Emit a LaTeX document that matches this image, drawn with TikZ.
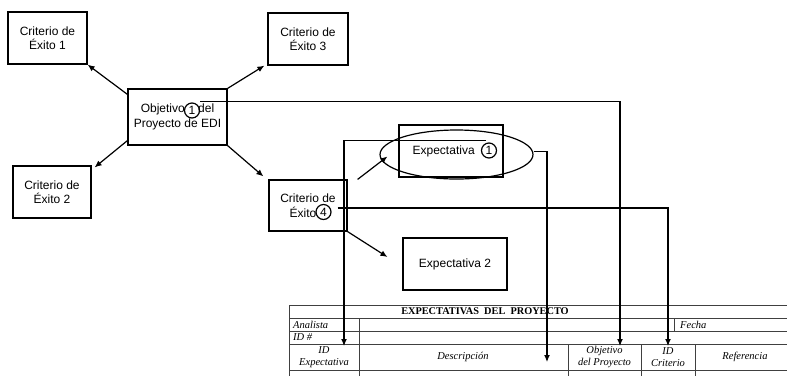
\documentclass[tikz,border=0pt]{standalone}
\usepackage{fontspec}
\setmainfont{Liberation Serif}
\setsansfont{Liberation Sans}
\usetikzlibrary{arrows.meta,positioning,calc,shapes.geometric}

\begin{document}
\begin{tikzpicture}[x=1pt,y=-1pt,
      crit/.style={draw,line width=1.2pt,align=center,inner sep=0pt,
        font=\sffamily\fontsize{12}{14.5}\selectfont},
      circ/.style={circle,draw,line width=1.2pt,minimum size=15pt,inner sep=0pt,
        font=\sffamily\fontsize{12}{14}\selectfont},
      arr/.style={line width=1.2pt,-{Latex[length=7pt,width=6pt]}},
      conn/.style={line width=1.2pt,-{Latex[length=7pt,width=6pt]}},
      tabline/.style={line width=0.8pt,black!75},
      tabtxt/.style={font=\fontsize{10.5}{11.5}\selectfont\itshape,align=center,inner sep=0pt}]
    \useasboundingbox (0,0) rectangle (787,376);

    % objetivo y criterios
    \node[crit,minimum width=99pt,minimum height=56pt] (obj) at (177.5,117)
      {Objetivo \hphantom{1} del\\Proyecto de EDI};
    \node[circ] (n1) at (192,110.5) {1};
    \node[crit,minimum width=79pt,minimum height=52pt] (c1) at (47.5,38) {Criterio de\\Éxito 1};
    \node[crit,minimum width=80pt,minimum height=52pt] (c3) at (308,39) {Criterio de\\Éxito 3};
    \node[crit,minimum width=78pt,minimum height=52pt] (c2) at (52,192) {Criterio de\\Éxito 2};
    \node[crit,minimum width=78pt,minimum height=51pt] (c4) at (308,205.5) {Criterio de\\Éxito \hphantom{4}};
    \node[circ] (n4) at (323.5,212) {4};

    % expectativas
    \node[crit,minimum width=104pt,minimum height=52pt] (e1) at (451,151)
      {Expectativa\hspace{8pt}\hphantom{1}};
    \node[circ] (ne1) at (489,150.5) {1};
    \node[ellipse,draw,line width=1.2pt,minimum width=153pt,minimum height=49pt] (ell) at (456.5,154.5) {};
    \node[crit,minimum width=104pt,minimum height=52pt] (e2) at (455,264) {Expectativa 2};

    \draw[arr] ([yshift=-6pt]obj.north west) -- (c1.south east);
    \draw[arr] (obj.north east) -- ([xshift=-3pt]c3.south west);
    \draw[arr] ([yshift=5pt]obj.south west) -- ([xshift=3pt,yshift=-2pt]c2.north east);
    \draw[arr] (obj.south east) -- ([xshift=-5pt,yshift=3pt]c4.north west);
    \draw[arr] ([xshift=10pt]c4.north east) -- ([xshift=8pt,yshift=-2pt]ell.west);
    \draw[arr] (c4.south east) -- ([xshift=-15pt,yshift=7pt]e2.west);

    % tabla
    \draw[tabline] (289,305) -- (787,305);
    \foreach \y in {318,331,344,370}
      \draw[tabline] (289,\y) -- (787,\y);
    \draw[tabline] (289,305) -- (289,376);
    \draw[tabline] (359,318) -- (359,376);
    \draw[tabline] (674,318) -- (674,331);
    \foreach \x in {568,641,695}
      \draw[tabline] (\x,344) -- (\x,376);

    \node[font=\fontsize{10.3}{12}\selectfont\bfseries] (titulo) at (485,311.5)
      {EXPECTATIVAS\ \ DEL\ \ PROYECTO};
    \node[tabtxt,anchor=west] (analista) at (293,324.5) {Analista};
    \node[tabtxt,anchor=west] (fecha) at (680,324.5) {Fecha};
    \node[tabtxt,anchor=west] (idnum) at (293,337.5) {ID \#};
    \node[tabtxt] (hexp) at (324,357) {ID\\Expectativa};
    \node[tabtxt] (hdesc) at (463,357) {Descripción};
    \node[tabtxt] (hobj) at (604.5,357) {Objetivo\\del Proyecto};
    \node[tabtxt] (hcrit) at (668,357) {ID\\Criterio};
    \node[tabtxt] (href) at (745,357) {Referencia};

    \coordinate (t-exp) at (344,346);
    \coordinate (t-desc) at (547,362);
    \coordinate (t-obj) at (620,346);
    \coordinate (t-crit) at (668,346);

    % conexiones a la tabla
    \draw[conn] ([xshift=8pt,yshift=1pt]n1.north) -| (t-obj);
    \draw[conn] ([xshift=6pt,yshift=4pt]n4.east) -| (t-crit);
    \draw[conn] ([xshift=-3pt,yshift=2pt]ne1.north) -| (t-exp);
    \draw[conn] ([yshift=3pt]ell.east) -| (t-desc);
  \end{tikzpicture}
\end{document}
